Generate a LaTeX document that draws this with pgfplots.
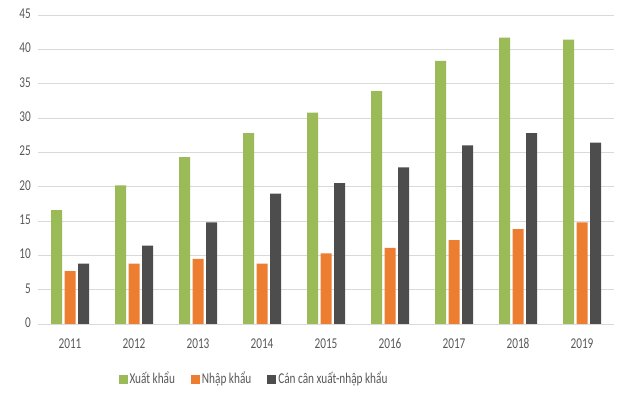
\documentclass[border=0pt]{standalone}
\usepackage{fontspec}
\setmainfont{Carlito}[FakeStretch=0.75]
\usepackage{pgfplots}
\pgfplotsset{compat=1.18}
\definecolor{cgreen}{HTML}{9BBB59}
\definecolor{corange}{HTML}{ED7D31}
\definecolor{cdark}{HTML}{4D4D4D}
\definecolor{ctext}{HTML}{595959}
\definecolor{cgrid}{HTML}{D9D9D9}
\begin{document}
\begin{tikzpicture}
\fontsize{15pt}{17pt}\selectfont
\begin{axis}[
  name=ax,
  scale only axis,
  width=576pt, height=309pt,
  ybar=2.5pt, bar width=11pt,
  xmin=-0.5, xmax=8.5,
  ymin=0, ymax=45,
  xtick={0,...,8},
  xticklabels={2011,2012,2013,2014,2015,2016,2017,2018,2019},
  ytick={0,5,...,45},
  ymajorgrids, grid style={cgrid, line width=0.8pt},
  axis lines*=left,
  y axis line style={draw=none},
  x axis line style={cgrid, line width=0.8pt, -},
  major tick length=0pt,
  tick label style={ctext, font=\fontsize{15pt}{17pt}\selectfont},
  typeset ticklabels with strut,
  /pgf/number format/assume math mode=true,
  xticklabel style={yshift=-7pt},
  yticklabel style={xshift=-2pt},
  legend style={at={(0.375,-0.178)}, anchor=center, draw=none,
    legend columns=3, font=\fontsize{15pt}{17pt}\selectfont, text=ctext,
    /tikz/every even column/.append style={column sep=14pt}},
  legend image code/.code={\fill[#1] (0pt,-5pt) rectangle (9pt,4pt);},
  legend cell align=left,
]
\addplot[fill=cgreen, draw=none] coordinates {
  (0,16.6) (1,20.2) (2,24.3) (3,27.8) (4,30.8) (5,33.9) (6,38.3) (7,41.7) (8,41.4)};
\addplot[fill=corange, draw=none] coordinates {
  (0,7.7) (1,8.8) (2,9.5) (3,8.8) (4,10.3) (5,11.1) (6,12.2) (7,13.8) (8,14.8)};
\addplot[fill=cdark, draw=none] coordinates {
  (0,8.8) (1,11.4) (2,14.8) (3,19.0) (4,20.5) (5,22.8) (6,26.0) (7,27.8) (8,26.4)};
\legend{Xuất khẩu, Nhập khẩu, Cán cân xuất-nhập khẩu}
\end{axis}
\path ([shift={(-38pt,-81pt)}]ax.south west) rectangle ([shift={(26pt,15pt)}]ax.north east);
\end{tikzpicture}
\end{document}
